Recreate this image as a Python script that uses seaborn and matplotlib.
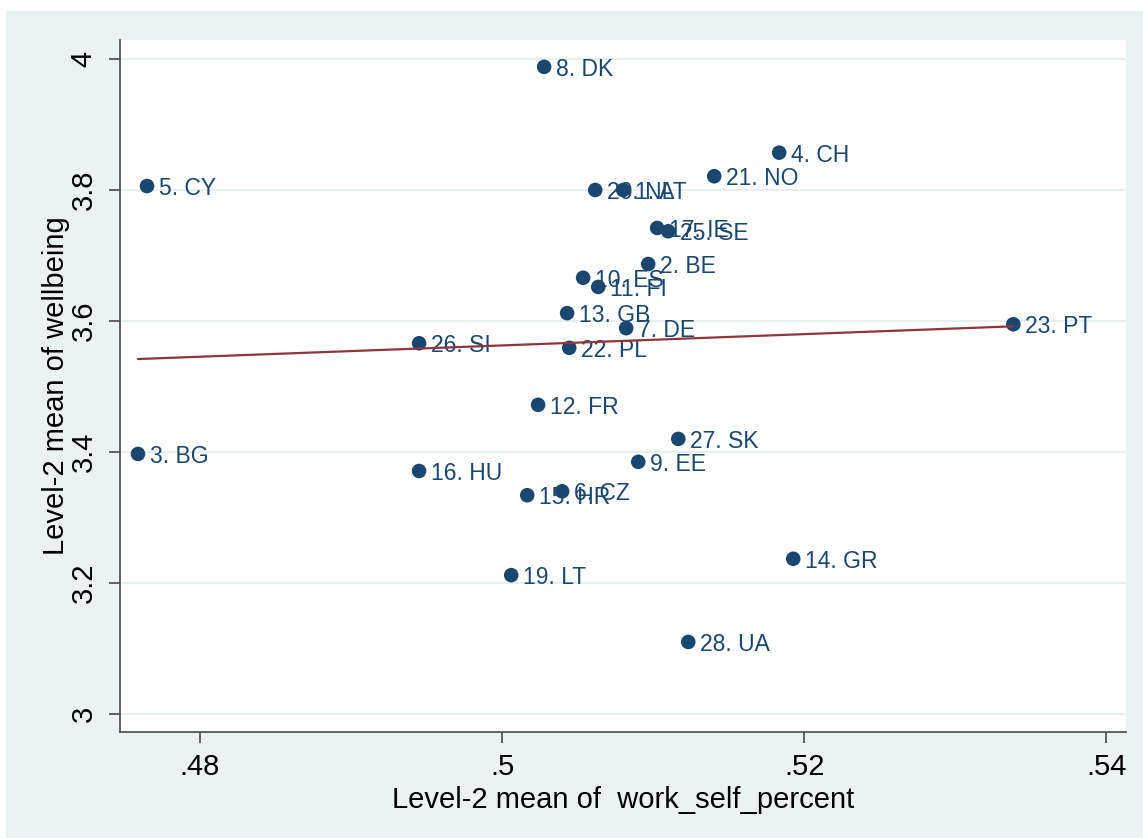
import matplotlib
matplotlib.use("Agg")
import matplotlib.pyplot as plt
import seaborn as sns
import pandas as pd
from matplotlib.patches import Rectangle

# ---- data ----
labels = ["8. DK", "4. CH", "5. CY", "21. NO", "20. NL", "1. AT", "17. IE", "25. SE",
          "2. BE", "10. ES", "11. FI", "13. GB", "7. DE", "22. PL", "26. SI", "23. PT",
          "12. FR", "3. BG", "27. SK", "9. EE", "16. HU", "15. HR", "6. CZ", "19. LT",
          "14. GR", "28. UA"]
work_self = [0.50278, 0.51834, 0.47649, 0.51404, 0.50616, 0.50801, 0.51026, 0.51099,
             0.50967, 0.50536, 0.50636, 0.50430, 0.50821, 0.50444, 0.49450, 0.53384,
             0.50238, 0.47589, 0.51166, 0.50901, 0.49450, 0.50166, 0.50397, 0.50060,
             0.51927, 0.51232]
wellbeing = [3.988, 3.857, 3.806, 3.821, 3.800, 3.800, 3.742, 3.737,
             3.687, 3.666, 3.652, 3.612, 3.589, 3.559, 3.566, 3.595,
             3.472, 3.397, 3.420, 3.385, 3.371, 3.334, 3.340, 3.212,
             3.237, 3.110]
x_ticks = [0.48, 0.50, 0.52, 0.54]
x_ticklabels = [".48", ".5", ".52", ".54"]
y_ticks = [3.0, 3.2, 3.4, 3.6, 3.8, 4.0]
y_ticklabels = ["3", "3.2", "3.4", "3.6", "3.8", "4"]

df = pd.DataFrame({"label": labels, "x": work_self, "y": wellbeing})

NAVY = "#1a476f"
MAROON = "#90353b"
BG = "#eaf2f3"
GRID = "#e6eef0"

sns.set_theme(style="white")
plt.rcParams["font.family"] = ["Liberation Sans", "DejaVu Sans"]

fig = plt.figure(figsize=(11.43, 8.38), dpi=100)
fig.patch.set_facecolor("white")
bg_rect = Rectangle((6 / 1143, 0), 1 - 6 / 1143, (838 - 11) / 838,
                    transform=fig.transFigure, facecolor=BG,
                    edgecolor="none", zorder=-10)
fig.add_artist(bg_rect)

ax = fig.add_axes([120 / 1143, (838 - 732) / 838, (1126 - 120) / 1143, (732 - 40) / 838])
ax.set_zorder(1)
ax.set_facecolor("white")

sns.scatterplot(data=df, x="x", y="y", ax=ax, color=NAVY, s=110, edgecolor="none",
                zorder=3, legend=False)
for lab, xv, yv in zip(df["label"], df["x"], df["y"]):
    ax.annotate(lab, (xv, yv), xytext=(8.5, -1.8), textcoords="offset points",
                ha="left", va="center", fontsize=16.5, color=NAVY, zorder=4)

sns.regplot(data=df, x="x", y="y", ax=ax, scatter=False, ci=None, truncate=True,
            color=MAROON, line_kws={"lw": 1.6, "zorder": 5})

ax.set_xlim(0.4747, 0.5413)
ax.set_ylim(2.9725, 4.029)
ax.set_xticks(x_ticks)
ax.set_xticklabels(x_ticklabels)
ax.set_yticks(y_ticks)
ax.set_yticklabels(y_ticklabels, rotation=90, va="center")

ax.grid(axis="y", color=GRID, lw=1.3, zorder=0)
ax.grid(axis="x", visible=False)
ax.set_axisbelow(True)

for side in ["top", "right"]:
    ax.spines[side].set_visible(False)
for side in ["left", "bottom"]:
    ax.spines[side].set_color("#555555")
    ax.spines[side].set_linewidth(1.3)

ax.tick_params(axis="both", which="major", direction="out", length=8, width=1.3,
               color="#555555", labelsize=21, labelcolor="black")
ax.tick_params(axis="x", pad=7, bottom=True)
ax.tick_params(axis="y", pad=8, left=True)

ax.set_xlabel("Level-2 mean of  work_self_percent", fontsize=21, color="black", labelpad=4)
ax.set_ylabel("Level-2 mean of wellbeing", fontsize=21, color="black", labelpad=0)

fig.savefig("out.png", dpi=100, facecolor=fig.get_facecolor())
